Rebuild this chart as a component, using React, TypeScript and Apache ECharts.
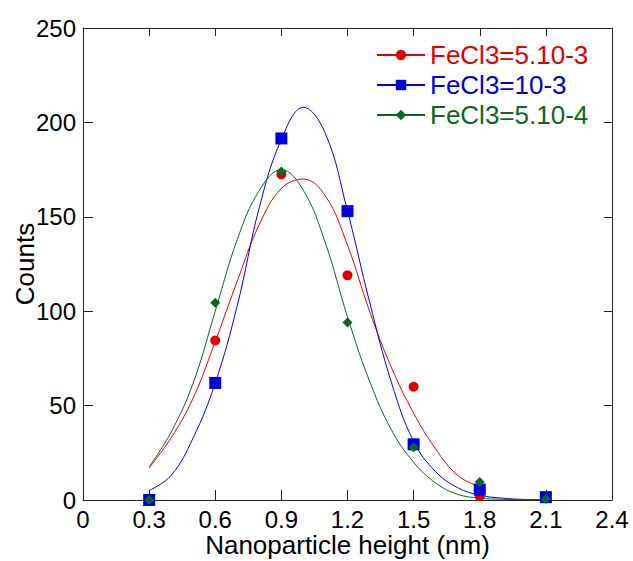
import React, { useEffect, useRef } from "react";
import * as echarts from "echarts";

const seriesNames = ["FeCl3=5.10-3", "FeCl3=10-3", "FeCl3=5.10-4"];
const seriesColors = ["#e00000", "#0000dd", "#0b6623"];
const seriesSymbols = ["circle", "rect", "diamond"];
const symbolSizes = [10, 12, 10];

// measured points
const pointX = [0.3, 0.6, 0.9, 1.2, 1.5, 1.8, 2.1];
const redPoints = [0, 84.5, 172.5, 119, 60, 2, 1];
const bluePoints = [0, 62, 191.5, 153, 29.5, 5.5, 1.5];
const greenPoints = [0, 104.5, 174, 94, 28, 9.5, 0.5];

// fitted curves
const curveX = [0.3, 0.4, 0.5, 0.6, 0.7, 0.8, 0.9, 1.0, 1.1, 1.2, 1.3, 1.4, 1.5, 1.6, 1.7, 1.8, 1.9, 2.0, 2.1];
const redCurve = [17, 33, 54, 84, 116, 146, 165, 170, 161, 135, 100, 70, 46, 27, 13, 7];
const blueCurve = [5, 13, 33, 62, 103, 155, 191, 208, 194, 153, 105, 62, 31, 15, 6.5, 2.5, 1, 0.3, 0.1];
const greenCurve = [17.5, 36, 62, 100, 138, 164, 175, 164, 136, 97, 63, 37, 20, 9, 3, 1, 0.4, 0.2, 0];

const xTicks = [0, 2.4, 0.3];
const yTicks = [0, 250, 50];

const FONT = "'Liberation Sans', Arial, sans-serif";
const W = 633;
const H = 561;
const G = { left: 83, right: 21, top: 28, bottom: 61 };

export default function App() {
  const ref = useRef<HTMLDivElement>(null);
  useEffect(() => {
    if (!ref.current) return;
    document.body.style.margin = "0";
    document.body.style.overflow = "hidden";
    const chart = echarts.init(ref.current, undefined, { renderer: "svg" });
    const points = [redPoints, bluePoints, greenPoints];
    const curves = [redCurve, blueCurve, greenCurve];
    const gw = W - G.left - G.right;
    const gh = H - G.top - G.bottom;

    const lineSeries = curves.map((c, i) => ({
      name: seriesNames[i],
      type: "line",
      data: c.map((v, k) => [curveX[k], v]),
      smooth: 0.4,
      showSymbol: false,
      symbol: seriesSymbols[i],
      symbolSize: symbolSizes[i],
      lineStyle: { color: seriesColors[i], width: 1 },
      itemStyle: { color: seriesColors[i] },
      z: 2,
    }));
    const scatterSeries = points.map((p, i) => ({
      name: seriesNames[i],
      type: "scatter",
      data: p.map((v, k) => [pointX[k], v]),
      symbol: seriesSymbols[i],
      symbolSize: symbolSizes[i],
      itemStyle: { color: seriesColors[i], opacity: 1 },
      z: 3 + i,
    }));

    const axisLine = { show: true, onZero: false, lineStyle: { color: "#222", width: 1 } };
    chart.setOption({
      animation: false,
      textStyle: { fontFamily: FONT },
      grid: {
        ...G,
        containLabel: false,
        outerBoundsMode: "none",
      },
      legend: {
        orient: "vertical",
        left: 376,
        top: 42,
        padding: 0,
        itemWidth: 48,
        itemHeight: 13,
        itemGap: 4,
        data: seriesNames.map((n, i) => ({
          name: n,
          textStyle: { color: seriesColors[i], fontSize: 26, fontFamily: FONT },
        })),
        textStyle: { fontSize: 26, fontFamily: FONT },
      },
      xAxis: [
        {
          type: "value",
          position: "bottom",
          min: xTicks[0],
          max: xTicks[1],
          interval: xTicks[2],
          name: "Nanoparticle height (nm)",
          nameLocation: "middle",
          nameGap: 32,
          nameMoveOverlap: false,
          nameTextStyle: { fontSize: 26, color: "#000", fontFamily: FONT },
          axisLine,
          axisTick: { show: false },
          axisLabel: {
            fontSize: 24,
            color: "#000",
            margin: 7,
            fontFamily: FONT,
            formatter: (v: number) => (v === 0 ? "0" : v.toFixed(1)),
          },
          // inward tick marks at top (8px) and bottom (10px) of the frame
          splitLine: {
            show: true,
            lineStyle: { color: "#222", width: 1, type: [8, gh - 18, 10, 4000] },
          },
        },
        {
          type: "value",
          position: "top",
          min: xTicks[0],
          max: xTicks[1],
          interval: xTicks[2],
          axisLine,
          axisTick: { show: false },
          axisLabel: { show: false },
          splitLine: { show: false },
        },
      ],
      yAxis: [
        {
          type: "value",
          position: "left",
          min: yTicks[0],
          max: yTicks[1],
          interval: yTicks[2],
          name: "Counts",
          nameLocation: "middle",
          nameGap: 45,
          nameMoveOverlap: false,
          nameTextStyle: { fontSize: 26, color: "#000", fontFamily: FONT },
          axisLine,
          axisTick: { show: false },
          axisLabel: { fontSize: 24, color: "#000", margin: 7, fontFamily: FONT },
          // inward tick marks at left (10px) and right (8px) of the frame
          splitLine: {
            show: true,
            lineStyle: { color: "#222", width: 1, type: [10, gw - 18, 8, 4000] },
          },
        },
        {
          type: "value",
          position: "right",
          min: yTicks[0],
          max: yTicks[1],
          interval: yTicks[2],
          axisLine,
          axisTick: { show: false },
          axisLabel: { show: false },
          splitLine: { show: false },
        },
      ],
      series: [...lineSeries, ...scatterSeries],
    });
    return () => chart.dispose();
  }, []);
  return (
    <div
      ref={ref}
      style={{ position: "absolute", left: 0, top: 0, width: W, height: H }}
    />
  );
}
